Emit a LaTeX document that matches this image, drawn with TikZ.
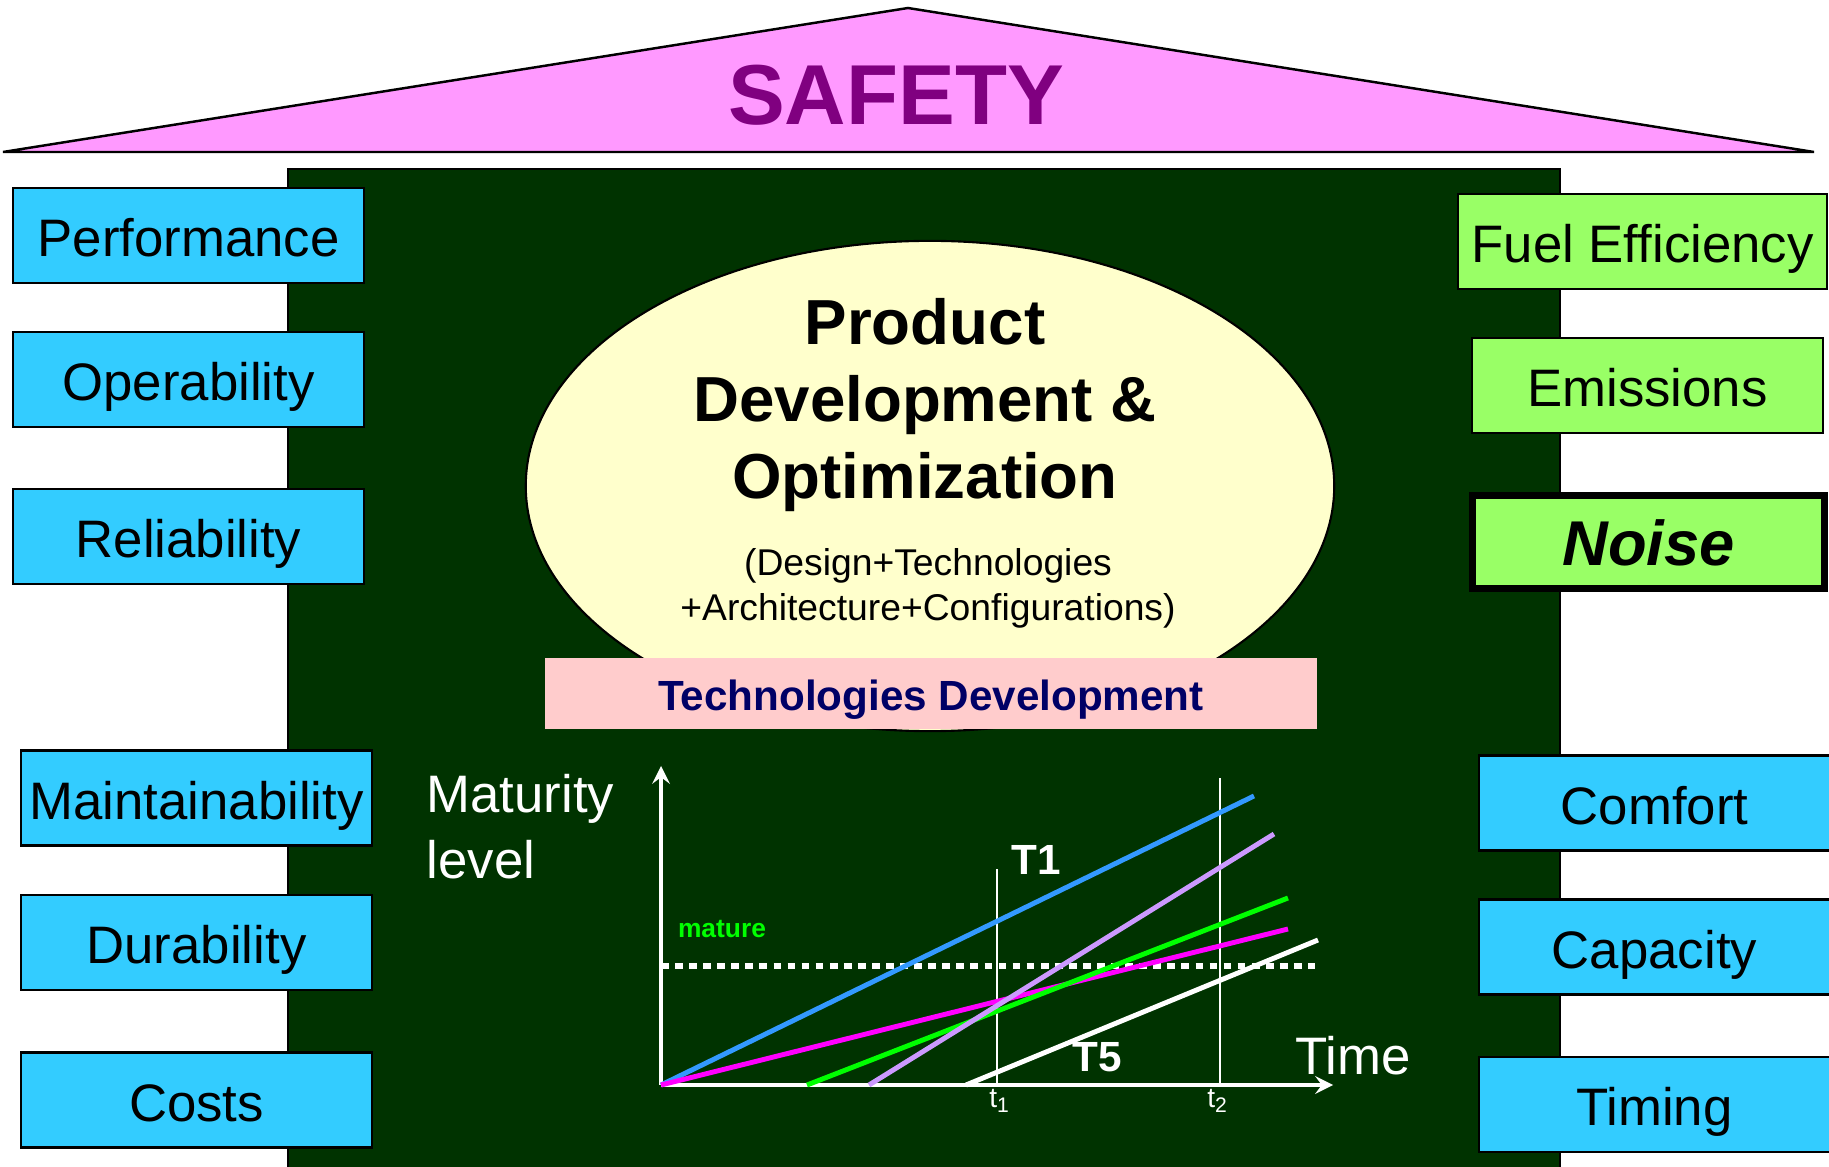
\documentclass[tikz,border=0pt]{standalone}
\usepackage{fontspec}
\setmainfont{Liberation Sans}
\usetikzlibrary{shapes.geometric}

\definecolor{roofpink}{HTML}{FF99FF}
\definecolor{roofpurple}{HTML}{800080}
\definecolor{housegreen}{HTML}{003300}
\definecolor{boxcyan}{HTML}{33CCFF}
\definecolor{boxgreen}{HTML}{99FF66}
\definecolor{corecream}{HTML}{FFFFCC}
\definecolor{techpink}{HTML}{FFCCCC}
\definecolor{technavy}{HTML}{000066}
\definecolor{lineblue}{HTML}{3399FF}
\definecolor{linelilac}{HTML}{CC99FF}
\definecolor{linegreen}{HTML}{00FF00}
\definecolor{linemagenta}{HTML}{FF00FF}

\begin{document}
\begin{tikzpicture}[
    x=0.01cm, y=-0.01cm,
    qbox/.style={draw=black, line width=0.6pt, minimum width=3.51cm,
                 minimum height=0.95cm, inner sep=0pt,
                 text height=12pt, text depth=0pt,
                 font=\fontsize{15}{18}\selectfont},
    cyanbox/.style={qbox, fill=boxcyan},
    greenbox/.style={qbox, fill=boxgreen},
    curve/.style={line width=1.4pt},
    axis/.style={->, >=stealth, white, line width=1.2pt},
    wlbl/.style={text=white, inner sep=0pt},
]
\useasboundingbox (0,0) rectangle (1829,1167);

% Roof
\draw[fill=roofpink, line width=0.7pt] (3,152) -- (908,8) -- (1814,152) -- cycle;
\node[text=roofpurple, font=\fontsize{24.2}{28}\selectfont\bfseries] (safety)
    at (896,95) {SAFETY};

% House body
\fill[housegreen] (288,169) rectangle (1560,1167);
\draw[line width=0.6pt] (288,1167) -- (288,169) -- (1560,169) -- (1560,1167);

% Left boxes
\node[cyanbox] (perf)  at (188.5,235.5) {Performance};
\node[cyanbox] (oper)  at (188.5,379.5) {Operability};
\node[cyanbox] (rel)   at (188.5,536.5) {Reliability};
\node[cyanbox] (maint) at (196.5,798)   {Maintainability};
\node[cyanbox] (dur)   at (196.5,942.5) {Durability};
\node[cyanbox] (cost)  at (196.5,1100)  {Costs};

% Right boxes
\node[greenbox, minimum width=3.69cm] (fuel) at (1642.5,241.5) {Fuel Efficiency};
\node[greenbox] (emis) at (1647.5,385.5) {Emissions};
\node[greenbox, line width=1.8pt, minimum width=3.52cm, minimum height=0.93cm,
      text height=13.4pt,
      font=\fontsize{18}{21}\selectfont\bfseries\itshape] (noise)
    at (1648.5,542) {Noise};
\node[cyanbox] (comf) at (1654.5,803)    {Comfort};
\node[cyanbox] (cap)  at (1654.5,947)    {Capacity};
\node[cyanbox] (tim)  at (1654.5,1104.5) {Timing};

% Core ellipse
\node[ellipse, draw=black, line width=0.6pt, fill=corecream,
      minimum width=8.08cm, minimum height=4.9cm] (core) at (930,486) {};
\node[align=center, font=\fontsize{18.1}{21.9}\selectfont\bfseries] (prod)
    at (925,405) {Product\\Development \&\\Optimization};
\node[align=center, font=\fontsize{10.6}{12.8}\selectfont] (mix)
    at (928,588) {(Design+Technologies\\+Architecture+Configurations)};

% Technologies bar
\node[fill=techpink, minimum width=7.72cm, minimum height=0.71cm,
      text height=9.6pt, text depth=0pt,
      text=technavy, font=\fontsize{12}{14}\selectfont\bfseries] (tech)
    at (931,693.5) {Technologies Development};

% Chart
\coordinate (o)  at (661,1085);
\coordinate (ytop) at (661,766);
\coordinate (xend) at (1333,1085);
\draw[axis] (o) -- (ytop);
\draw[axis] (o) -- (xend);
\node[wlbl, anchor=west, align=left, font=\fontsize{15}{18.8}\selectfont] (mat)
    at (426,827) {Maturity\\level};
\node[wlbl, font=\fontsize{15}{18}\selectfont] (time) at (1353,1056) {Time};

% Maturity threshold
\coordinate (m1) at (661,966);
\coordinate (m2) at (1315,966);
\draw[white, line width=1.8pt, dash pattern=on 2.2pt off 1.8pt] (m1) -- (m2);
\node[text=linegreen, font=\fontsize{7.5}{9}\selectfont\bfseries] (mature)
    at (722,929) {mature};

% Time marks
\coordinate (t1a) at (997,1085);
\coordinate (t1b) at (997,869);
\coordinate (t2a) at (1220,1085);
\coordinate (t2b) at (1220,778);
\draw[white, line width=0.5pt] (t1a) -- (t1b);
\draw[white, line width=0.5pt] (t2a) -- (t2b);
\node[wlbl, font=\fontsize{8}{9}\selectfont] (t1) at (1000,1101) {t\textsubscript{1}};
\node[wlbl, font=\fontsize{8}{9}\selectfont] (t2) at (1218,1101) {t\textsubscript{2}};

% Technology curves
\coordinate (gs) at (807,1085);
\coordinate (ls) at (869,1085);
\coordinate (ws) at (966,1085);
\draw[curve, lineblue]    (o)  -- (1254,796);
\draw[curve, linemagenta] (o)  -- (1288,929);
\draw[curve, linegreen]   (gs) -- (1288,898);
\draw[curve, linelilac]   (ls) -- (1274,834);
\draw[curve, white]       (ws) -- (1318,940);
\node[wlbl, font=\fontsize{12}{14}\selectfont\bfseries] (T1) at (1036,860) {T1};
\node[wlbl, font=\fontsize{12}{14}\selectfont\bfseries] (T5) at (1097,1057) {T5};

\end{tikzpicture}
\end{document}
